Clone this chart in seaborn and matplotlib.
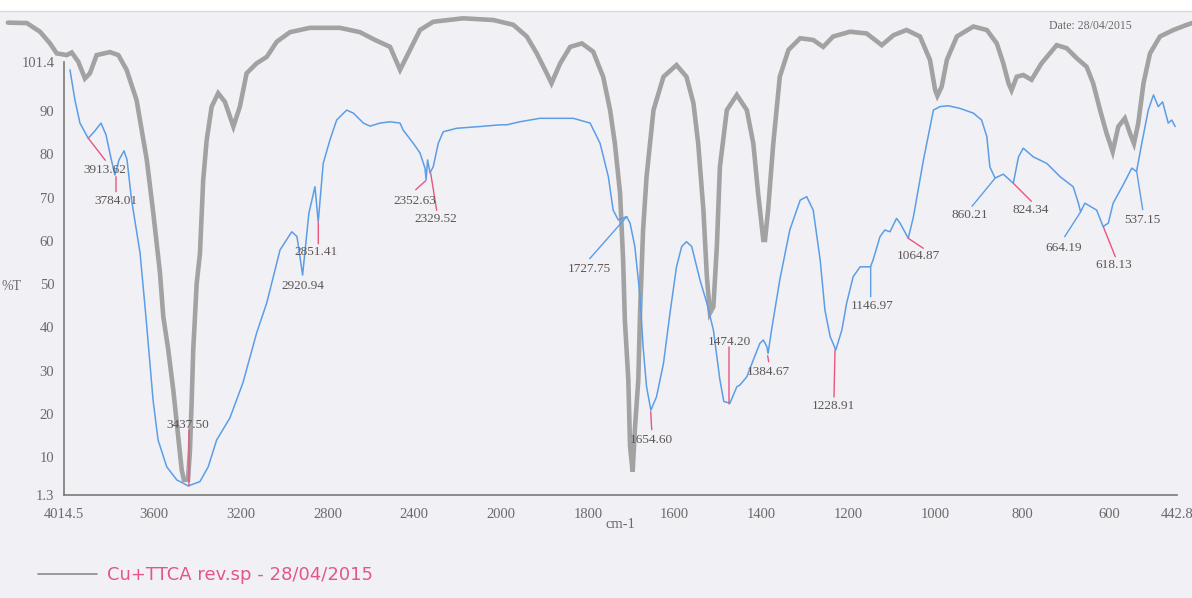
import numpy as np
import matplotlib
matplotlib.use("Agg")
import matplotlib.pyplot as plt
from matplotlib.lines import Line2D
from matplotlib.patches import Rectangle
import seaborn as sns

sns.set_style("white")
plt.rcParams['font.family'] = ['Liberation Serif', 'DejaVu Serif']

# ---------------- data ----------------
blue_wn = [3987, 3964, 3941, 3903, 3872, 3844, 3821, 3798, 3780, 3761,
           3738, 3724, 3703, 3664, 3637, 3604, 3581, 3541, 3495, 3442,
           3388, 3350, 3311, 3250, 3190, 3127, 3080, 3019, 2965, 2941,
           2915, 2886, 2858, 2843, 2820, 2789, 2758, 2712, 2681, 2635,
           2604, 2558, 2512, 2466, 2452, 2406, 2374, 2351, 2346, 2339,
           2328, 2313, 2290, 2267, 2205, 2098, 2005, 1987, 1957, 1911,
           1834, 1795, 1772, 1753, 1742, 1730, 1711, 1703, 1692, 1680,
           1673, 1665, 1655, 1642, 1626, 1611, 1596, 1584, 1573, 1561,
           1542, 1526, 1511, 1496, 1487, 1473, 1457, 1450, 1434, 1419,
           1404, 1396, 1388, 1385, 1377, 1358, 1335, 1311, 1296, 1281,
           1265, 1254, 1242, 1229, 1215, 1204, 1189, 1173, 1149, 1143,
           1127, 1116, 1104, 1089, 1081, 1062, 1050, 1027, 1004, 989,
           970, 943, 912, 893, 881, 874, 862, 843, 820, 808,
           797, 774, 743, 712, 682, 670, 665, 655, 628, 616,
           613, 601, 590, 567, 547, 536, 524, 509, 497, 486,
           476, 463, 455, 447]
blue_t = [99.5, 92.5, 87.2, 83.7, 85.4, 87.2, 84.5, 79.1, 75.2, 78.7,
          80.8, 78.7, 69.4, 57.2, 42.5, 23.2, 14.0, 7.8, 4.8, 3.4,
          4.4, 7.8, 14.0, 19.1, 27.2, 38.7, 45.7, 57.9, 62.1, 61.0,
          52.1, 66.4, 72.5, 64.4, 77.9, 83.3, 87.9, 90.2, 89.5, 87.2,
          86.5, 87.2, 87.5, 87.2, 85.6, 82.6, 80.3, 76.8, 74.1, 78.7,
          75.7, 77.1, 82.5, 85.2, 86.0, 86.4, 86.8, 86.8, 87.5, 88.3,
          88.3, 87.2, 82.5, 74.8, 67.1, 64.8, 65.6, 64.1, 58.7, 47.1,
          35.6, 26.3, 20.9, 24.0, 31.7, 43.3, 54.0, 58.7, 59.8, 58.7,
          51.0, 45.6, 39.4, 27.9, 22.9, 22.5, 26.3, 26.7, 28.6, 32.5,
          36.3, 37.1, 35.6, 34.0, 39.4, 51.0, 62.5, 69.4, 70.2, 67.1,
          55.6, 44.0, 37.9, 34.8, 39.4, 45.6, 51.7, 54.0, 54.0, 55.6,
          61.0, 62.5, 62.1, 65.2, 64.1, 60.6, 65.6, 78.7, 90.2, 91.0,
          91.2, 90.6, 89.5, 87.9, 84.1, 77.1, 74.5, 75.4, 73.3, 79.4,
          81.4, 79.4, 77.9, 74.8, 72.5, 68.7, 66.7, 68.7, 67.1, 64.1,
          63.3, 64.1, 68.7, 72.9, 76.8, 76.0, 82.5, 90.2, 93.7, 91.0,
          92.1, 87.2, 87.9, 86.4]

gray_wn = [4273, 4186, 4125, 4079, 4048, 4002, 3979, 3949, 3918, 3895,
           3864, 3803, 3764, 3726, 3680, 3633, 3603, 3572, 3557, 3534,
           3511, 3488, 3472, 3462, 3443, 3434, 3426, 3419, 3403, 3388,
           3373, 3357, 3334, 3304, 3273, 3234, 3204, 3173, 3127, 3080,
           3034, 2973, 2881, 2743, 2651, 2581, 2512, 2466, 2420, 2374,
           2313, 2175, 2036, 1972, 1941, 1918, 1895, 1884, 1864, 1841,
           1814, 1788, 1765, 1749, 1738, 1726, 1719, 1715, 1707, 1703,
           1697, 1692, 1684, 1680, 1673, 1665, 1649, 1626, 1596, 1573,
           1557, 1546, 1534, 1526, 1519, 1511, 1503, 1496, 1480, 1457,
           1434, 1419, 1408, 1396, 1392, 1385, 1373, 1358, 1338, 1311,
           1281, 1258, 1235, 1196, 1158, 1123, 1096, 1066, 1035, 1012,
           1000, 995, 985, 973, 950, 912, 881, 858, 843, 831,
           824, 812, 797, 778, 755, 720, 697, 674, 651, 636,
           620, 605, 591, 578, 563, 551, 542, 532, 520, 505,
           482, 451, 420, 408]
gray_t = [110.4, 110.3, 108.3, 105.6, 103.3, 102.9, 103.5, 101.4, 97.5, 98.7,
          102.9, 103.6, 102.9, 99.5, 92.5, 78.7, 66.4, 52.5, 42.5, 34.8,
          25.6, 14.8, 7.1, 4.8, 4.8, 11.7, 23.2, 34.8, 50.2, 57.1,
          74.1, 83.3, 91.0, 94.1, 92.1, 86.4, 91.0, 98.7, 101.0, 102.5,
          106.0, 108.2, 109.2, 109.2, 108.2, 106.4, 104.8, 99.5, 104.1, 108.7,
          110.6, 111.4, 111.0, 109.9, 107.2, 103.3, 98.7, 96.4, 101.0, 104.8,
          105.6, 103.7, 97.9, 90.2, 82.5, 71.0, 55.6, 41.7, 27.9, 12.5,
          6.7, 16.3, 27.9, 43.3, 62.5, 74.8, 90.2, 97.9, 100.6, 97.9,
          91.8, 82.5, 67.1, 51.7, 43.3, 44.8, 58.7, 77.1, 90.2, 93.7,
          90.2, 82.5, 71.0, 60.2, 60.2, 67.1, 82.5, 97.9, 104.1, 106.8,
          106.4, 104.8, 107.2, 108.3, 107.9, 105.2, 107.5, 108.7, 107.2, 101.8,
          94.8, 93.5, 95.6, 101.8, 107.2, 109.5, 108.7, 105.6, 101.0, 96.4,
          94.8, 97.9, 98.3, 97.2, 101.0, 105.2, 104.5, 102.2, 100.2, 96.4,
          90.2, 84.8, 80.6, 86.4, 88.3, 84.8, 82.5, 87.2, 96.4, 103.3,
          107.2, 108.7, 109.9, 110.3]

# peak annotations: label, wavenumber, %T at the line start
peak_labels = ["3913.62", "3784.01", "3437.50", "2920.94", "2851.41", "2352.63",
               "2329.52", "1727.75", "1654.60", "1474.20", "1384.67", "1228.91",
               "1146.97", "1064.87", "860.21", "824.34", "664.19", "618.13", "537.15"]
peak_wn = [3902.5, 3774.9, 3438.5, 2914.5, 2842.6, 2347.7,
           2324.7, 1710.7, 1655.4, 1475.0, 1385.9, 1230.8,
           1148.6, 1062.0, 862.1, 819.9, 664.7, 612.6, 535.6]
peak_t = [83.69, 74.82, 3.38, 52.11, 64.19, 73.89,
          75.60, 65.58, 20.54, 22.32, 33.47, 34.79,
          54.03, 60.59, 74.45, 73.29, 66.73, 63.27, 75.97]

x_ticks = [4014.5, 3600, 3200, 2800, 2400, 2000, 1800, 1600, 1400, 1200, 1000, 800, 600, 442.8]
x_ticklabels = ["4014.5", "3600", "3200", "2800", "2400", "2000", "1800", "1600",
                "1400", "1200", "1000", "800", "600", "442.8"]
y_ticks = [1.3, 10, 20, 30, 40, 50, 60, 70, 80, 90, 101.4]
y_ticklabels = ["1.3", "10", "20", "30", "40", "50", "60", "70", "80", "90", "101.4"]

legend_text = "Cu+TTCA rev.sp - 28/04/2015"
date_text = "Date: 28/04/2015"

# ---------------- styles ----------------
RED = '#e8557f'
BLUE_C = '#5b9de6'
# (line end offset px, text offset px, colour); offsets in pixels, y downward
ann_style = [((17, 22), (17, 32), RED), ((0, 15), (0, 24), RED), ((0, -56), (-1, -61), RED),
             (None, (0, 11), RED), ((0, 21), (-2, 29), RED), ((-10, 9), (-11, 20), RED),
             ((6, 37), (5, 46), RED), ((-37, 42), (-37, 52), BLUE_C), ((1, 18), (1, 28), RED),
             ((0, -57), (0, -62), RED), ((1, 6), (1, 16), RED), ((-1, 47), (-2, 56), RED),
             ((0, 30), (1, 39), BLUE_C), ((15, 10), (10, 18), RED), ((-23, 28), (-25, 37), BLUE_C),
             ((18, 18), (17, 27), RED), ((-16, 25), (-17, 36), BLUE_C), ((12, 30), (10, 38), RED),
             ((6, 38), (6, 48), BLUE_C)]

W, H = 1192, 598
fig = plt.figure(figsize=(W / 100, H / 100), dpi=100)
fig.patch.set_facecolor('#f1f1f5')
fig.add_artist(Rectangle((0, 1 - 11 / H), 1, 11 / H, transform=fig.transFigure,
                         facecolor='white', edgecolor='none', zorder=0))
fig.add_artist(Line2D([0, 1], [1 - 11 / H] * 2, color='#d9d9dc', lw=1, transform=fig.transFigure))

ax = fig.add_axes([64 / W, 1 - 495 / H, (1177 - 64) / W, (495 - 61.6) / H])
ax.patch.set_alpha(0)


def fwd(x):
    x = np.asarray(x, dtype=float)
    return np.where(x > 2000, 2000 + (x - 2000) / 2.0, x)


def inv(u):
    u = np.asarray(u, dtype=float)
    return np.where(u > 2000, 2000 + (u - 2000) * 2.0, u)


ax.set_xscale('function', functions=(fwd, inv))
ax.set_xlim(4014.5, 442.8)
ax.set_ylim(1.3, 101.4)

sns.lineplot(x=gray_wn, y=gray_t, sort=False, estimator=None, color='#a2a2a2', lw=3.3,
             ax=ax, clip_on=False, zorder=1, solid_joinstyle='miter')
sns.lineplot(x=blue_wn, y=blue_t, sort=False, estimator=None, color=BLUE_C, lw=1.1,
             ax=ax, clip_on=False, zorder=3)

for lab, wn, t, (lend, toff, col) in zip(peak_labels, peak_wn, peak_t, ann_style):
    if lend is not None:
        ax.annotate('', xy=(wn, t), xytext=(lend[0], -lend[1]), textcoords='offset pixels',
                    arrowprops=dict(arrowstyle='-', color=col, lw=1.0, shrinkA=0, shrinkB=0),
                    annotation_clip=False, zorder=4)
    ax.annotate(lab, xy=(wn, t), xytext=(toff[0], -toff[1]), textcoords='offset pixels',
                ha='center', va='center', fontsize=9.5, color='#5d5555',
                annotation_clip=False, zorder=5)

ax.set_xticks(x_ticks)
ax.set_xticklabels(x_ticklabels)
ax.set_yticks(y_ticks)
ax.set_yticklabels(y_ticklabels)
ax.minorticks_off()
ax.tick_params(axis='both', direction='out', length=3, width=1, color='#7a7a7a',
               labelcolor='#6a6a6a', labelsize=10.5)
ax.tick_params(axis='y', pad=4)
ax.tick_params(axis='x', pad=6)
for s in ['top', 'right']:
    ax.spines[s].set_visible(False)
for s in ['left', 'bottom']:
    ax.spines[s].set_color('#7a7a7a')
    ax.spines[s].set_linewidth(1.2)
ax.set_xlabel('')
ax.set_ylabel('')

fig.text(620 / W, 1 - 525 / H, 'cm-1', ha='center', va='center', fontsize=10.5, color='#6a6a6a')
fig.text(2 / W, 1 - 287 / H, '%T', ha='left', va='center', fontsize=10, color='#6a6a6a')
fig.text(1090 / W, 1 - 26 / H, date_text, ha='center', va='center', fontsize=8.5, color='#6a6a6a')

fig.add_artist(Line2D([38 / W, 97 / W], [1 - 574 / H] * 2, color='#8c8c8c', lw=1.2,
                      transform=fig.transFigure))
fig.text(107 / W, 1 - 575 / H, legend_text, ha='left', va='center', fontsize=13,
         color='#e4558a', family=['DejaVu Sans'])

fig.savefig('out.png', dpi=100, facecolor=fig.get_facecolor())
